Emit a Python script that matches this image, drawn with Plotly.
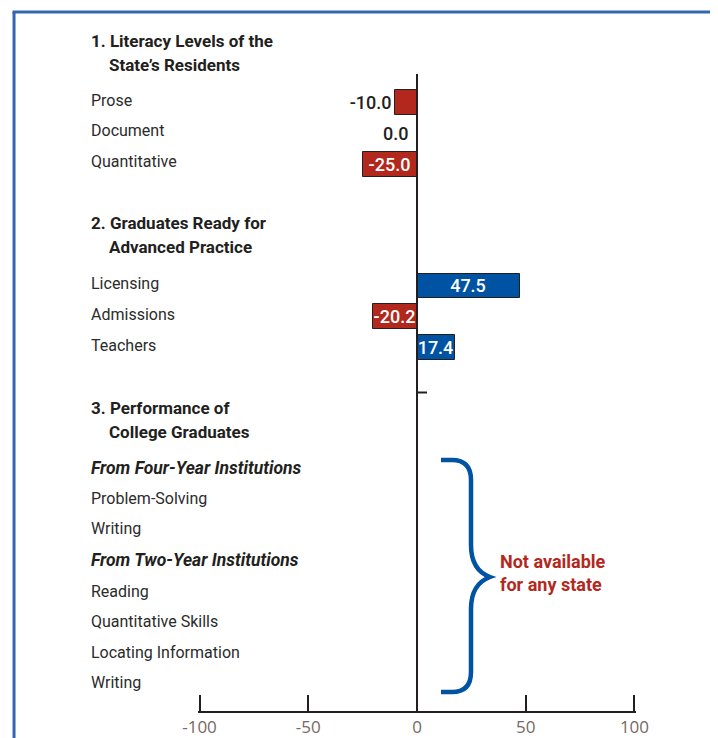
import plotly.graph_objects as go

# ---- data ----
bar_labels = ["Prose", "Document", "Quantitative", "Licensing", "Admissions", "Teachers"]
bar_values = [-10.0, 0.0, -25.0, 47.5, -20.2, 17.4]
section3_items = ["From Four-Year Institutions", "Problem-Solving", "Writing",
                  "From Two-Year Institutions", "Reading", "Quantitative Skills",
                  "Locating Information", "Writing"]
tick_vals = [-100, -50, 0, 50, 100]
tick_text = ["-100", "-50", "0", "50", "100"]

# ---- layout helpers (row slots) ----
bar_rows = [2.0, 3.0, 4.0, 7.95, 8.95, 9.95]
sec3_rows = [13.86, 14.84, 15.84, 16.85, 17.86, 18.86, 19.84, 20.84]
sec3_italic = [True, False, False, True, False, False, False, False]

# page body has an 8px margin; figure is drawn in reference pixel space minus 8
OFF = 8
W, H = 718 - OFF, 738 - OFF
XMIN, XMAX = -100.7, 100.7
X0_PX, XSCALE = 417, 2.175          # reference px of 0, px per unit
PLOT_L = X0_PX + XMIN * XSCALE
PLOT_R = X0_PX + XMAX * XSCALE
PLOT_T, PLOT_B = OFF, 711          # reference px top / baseline
L = PLOT_L - OFF
R = W - (PLOT_R - OFF)
T = PLOT_T - OFF
B = H - (PLOT_B - OFF)
Y0_PX, ROW_PX = 41, 30.8
PW = PLOT_R - PLOT_L
PH = PLOT_B - PLOT_T


def dx(px):
    return (px - X0_PX) / XSCALE


def dy(py):
    return (py - Y0_PX) / ROW_PX


def px_paper(px):
    return (px - PLOT_L) / PW


def py_paper(py):
    return 1 - (py - PLOT_T) / PH


YTOP = dy(PLOT_T)
YBOT = dy(PLOT_B)

RED = "#b3281d"
BLUE = "#0052a3"
DARK = "#231f20"
TXT = "#2b2b2b"
FONT = "Roboto, Liberation Sans, sans-serif"

colors = [RED if v < 0 else BLUE for v in bar_values]
positions = ["outside", "none", "inside", "inside", "inside", "inside"]
text_colors = [DARK, DARK, "white", "white", "white", "white"]

fig = go.Figure()
fig.add_trace(go.Bar(
    x=bar_values, y=bar_rows, orientation="h", width=0.8,
    marker=dict(color=colors, line=dict(color=DARK, width=1)),
    text=[f"{v:.1f}" for v in bar_values],
    textposition=positions,
    insidetextanchor="middle",
    textfont=dict(family=FONT, size=18, color=text_colors, weight=500),
    cliponaxis=False,
    hoverinfo="skip",
    showlegend=False,
))

ann = []


def label(text, px, row, bold=False, italic=False, size=16):
    t = text
    if bold:
        t = f"<b>{t}</b>"
    if italic:
        t = f"<i>{t}</i>"
    ann.append(dict(x=px_paper(px - 2), xref="paper", y=row, yref="y", text=t,
                    showarrow=False, xanchor="left", yanchor="middle",
                    font=dict(family=FONT, size=size, color=DARK if bold else TXT)))


# section headers
label("1. Literacy Levels of the", 91, 0.0, bold=True, size=17)
label("State’s Residents", 109, 0.78, bold=True, size=17)
label("2. Graduates Ready for", 91, 5.92, bold=True, size=17)
label("Advanced Practice", 109, 6.7, bold=True, size=17)
label("3. Performance of", 91, 11.92, bold=True, size=17)
label("College Graduates", 109, 12.7, bold=True, size=17)

for name, r in zip(bar_labels, bar_rows):
    label(name, 91, r - 0.08)
for name, r, it in zip(section3_items, sec3_rows, sec3_italic):
    label(name, 91, r, bold=it, italic=it, size=17.5 if it else 16)

# zero-value label (sits left of the axis)
for v, r, p in zip(bar_values, bar_rows, positions):
    if p == "none":
        ann.append(dict(x=v, xref="x", y=r, yref="y", text=f"{v:.1f}", showarrow=False,
                        xanchor="right", yanchor="middle", xshift=-7,
                        font=dict(family=FONT, size=18, color=DARK, weight=500)))

ann.append(dict(x=dx(498), xref="x", y=dy(573), yref="y",
                text="<b>Not available<br>for any state</b>", showarrow=False,
                xanchor="left", yanchor="middle", align="left",
                font=dict(family=FONT, size=18, color=RED)))

shapes = []
# zero line
shapes.append(dict(type="line", xref="x", yref="y", x0=0, x1=0, y0=dy(74), y1=YBOT,
                   line=dict(color=DARK, width=2)))
# small tick
shapes.append(dict(type="line", xref="x", yref="y", x0=0, x1=dx(427), y0=dy(392.5), y1=dy(392.5),
                   line=dict(color=DARK, width=2)))
# brace
pts = [("M", 441, 460), ("L", 452, 460), ("Q", 471, 460, 471, 480), ("L", 471, 545),
       ("Q", 471, 570, 490, 577), ("Q", 471, 584, 471, 609), ("L", 471, 672),
       ("Q", 471, 692, 452, 692), ("L", 441, 692)]
path = ""
for p in pts:
    cmd = p[0]
    coords = p[1:]
    seg = []
    for i in range(0, len(coords), 2):
        seg.append(f"{dx(coords[i]):.3f},{dy(coords[i+1]):.3f}")
    path += cmd + " ".join(seg) + " "
shapes.append(dict(type="path", xref="x", yref="y", path=path.strip(),
                   line=dict(color=BLUE, width=4.5)))
# frame
FRAME = "#3466b0"
shapes.append(dict(type="line", xref="paper", yref="paper",
                   x0=px_paper(14), x1=px_paper(14), y0=py_paper(12), y1=py_paper(745),
                   line=dict(color=FRAME, width=3)))
shapes.append(dict(type="line", xref="paper", yref="paper",
                   x0=px_paper(12.5), x1=px_paper(730), y0=py_paper(12), y1=py_paper(12),
                   line=dict(color=FRAME, width=3)))

fig.update_layout(
    width=W, height=H,
    margin=dict(l=L, r=R, t=T, b=B, pad=0),
    paper_bgcolor="white", plot_bgcolor="white",
    annotations=ann, shapes=shapes,
    uniformtext=dict(minsize=18, mode="show"),
    xaxis=dict(range=[XMIN, XMAX], tickvals=tick_vals, ticktext=tick_text,
               showline=True, linecolor=DARK, linewidth=2, ticks="inside",
               ticklen=16, tickwidth=2, tickcolor=DARK, showgrid=False, zeroline=False,
               tickfont=dict(family="Open Sans, Noto Sans, sans-serif", size=17, color="#75695f"),
               fixedrange=True),
    yaxis=dict(range=[YBOT, YTOP], visible=False, showgrid=False, zeroline=False,
               fixedrange=True),
    bargap=0,
)

fig.write_html("out.html")
